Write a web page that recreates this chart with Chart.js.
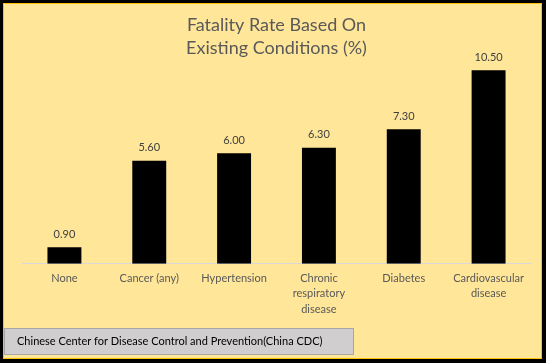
<!DOCTYPE html>
<html>
<head>
<meta charset="utf-8">
<script src="https://cdn.jsdelivr.net/npm/chart.js@4/dist/chart.umd.min.js"></script>
<style>
  html, body { margin: 0; padding: 0; background: #000; }
  canvas { display: block; }
</style>
</head>
<body>
<canvas id="c" width="546" height="363"></canvas>
<script>
const categories = ["None", "Cancer (any)", "Hypertension", ["Chronic", "respiratory", "disease"], "Diabetes", ["Cardiovascular", "disease"]];
const fatalityRates = [0.90, 5.60, 6.00, 6.30, 7.30, 10.50];
const titleLines = ["Fatality Rate Based On", "Existing Conditions (%)"];
const sourceText = "Chinese Center for Disease Control and Prevention(China CDC)";

const FONT = "Lato, 'Open Sans', sans-serif";

const framePlugin = {
  id: 'frame',
  beforeDraw(chart) {
    const ctx = chart.ctx;
    ctx.save();
    ctx.fillStyle = '#000000';
    ctx.fillRect(0, 0, chart.width, chart.height);
    ctx.fillStyle = '#FFC000';
    ctx.fillRect(3, 3, 539, 356);
    ctx.fillStyle = '#FFE699';
    ctx.fillRect(4, 4, 537, 354);
    ctx.restore();
  },
  afterDraw(chart) {
    const ctx = chart.ctx;
    ctx.save();
    ctx.fillStyle = '#D0CECE';
    ctx.fillRect(4.5, 328.5, 349, 26);
    ctx.strokeStyle = '#A6A6A6';
    ctx.lineWidth = 1;
    ctx.strokeRect(4.5, 328.5, 349, 26);
    ctx.fillStyle = '#000000';
    ctx.font = "11px " + FONT;
    ctx.textBaseline = 'middle';
    ctx.textAlign = 'left';
    ctx.fillText(sourceText, 17, 341);
    ctx.restore();
  }
};

const valueLabelPlugin = {
  id: 'valueLabels',
  afterDatasetsDraw(chart) {
    const ctx = chart.ctx;
    const meta = chart.getDatasetMeta(0);
    ctx.save();
    ctx.fillStyle = '#404040';
    ctx.font = "11px " + FONT;
    ctx.textAlign = 'center';
    ctx.textBaseline = 'middle';
    meta.data.forEach((bar, i) => {
      ctx.fillText(fatalityRates[i].toFixed(2), bar.x, bar.y - 13);
    });
    ctx.restore();
  }
};

new Chart(document.getElementById('c'), {
  type: 'bar',
  data: {
    labels: categories,
    datasets: [{
      data: fatalityRates,
      backgroundColor: '#000000',
      borderWidth: 0,
      categoryPercentage: 1.0,
      barPercentage: 0.4
    }]
  },
  options: {
    responsive: false,
    animation: false,
    devicePixelRatio: 1,
    layout: { padding: { left: 22, right: 15, top: 4, bottom: 39 } },
    plugins: {
      legend: { display: false },
      tooltip: { enabled: false },
      title: {
        display: true,
        text: titleLines,
        color: '#595959',
        font: { family: FONT, size: 18, weight: 'normal', lineHeight: 1.28 },
        padding: { top: 10, bottom: 2 }
      }
    },
    scales: {
      x: {
        grid: { display: false, drawTicks: false },
        border: { display: true, color: '#D9D9D9', width: 1 },
        ticks: {
          color: '#595959',
          font: { family: FONT, size: 11, lineHeight: 1.4 },
          padding: 7,
          maxRotation: 0,
          autoSkip: false
        }
      },
      y: {
        display: false,
        min: 0,
        max: 10.95
      }
    }
  },
  plugins: [framePlugin, valueLabelPlugin]
});
</script>
</body>
</html>
